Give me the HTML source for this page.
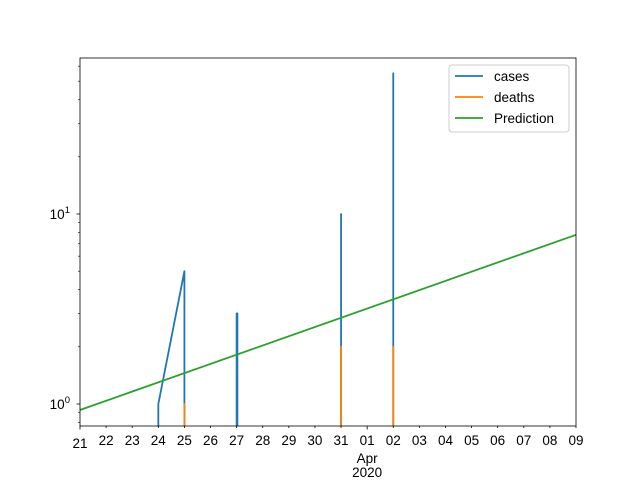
<!DOCTYPE html>
<html><head><meta charset="utf-8"><style>
html,body{margin:0;background:#fff;width:640px;height:480px;overflow:hidden}
svg{display:block;font-family:"Liberation Sans","DejaVu Sans",sans-serif}
</style></head><body>
<svg id="chart" width="640" height="480" xmlns="http://www.w3.org/2000/svg">
<rect width="640" height="480" fill="#fff"/>
<defs><clipPath id="clip"><rect x="80" y="58" width="496" height="368"/></clipPath></defs>
<g id="plot" clip-path="url(#clip)"></g>
<g id="axes"></g>
</svg>
<script>
const dayLabels = ["21","22","23","24","25","26","27","28","29","30","31","01","02","03","04","05","06","07","08","09"];
const casesDays = [3,3,4,4,6,6,6,6.03,6.03,6.03,10,10,10,12,12,12];
const casesVals = [0,1,5,0,0,3,0,0,3,0,0,10,0,0,55,0];
const deathsDays = [4,4,4,6,6,6,10,10,10,12,12,12];
const deathsVals = [0,1,0,0,0,0,0,2,0,0,2,0];
const predDays = [0,19];
const predVals = [0.93,7.77];
const yTicks = [1,10];
const yTickLabels = ["10","10"];

const svg = document.getElementById('chart');
const plot = document.getElementById('plot');
const axes = document.getElementById('axes');
const NS = "http://www.w3.org/2000/svg";
const x = d => 80 + d * (496/19);
const y = v => v <= 0 ? 432 : 404 - Math.log10(v) * 190;
function mk(tag, attrs, parent){const e=document.createElementNS(NS,tag);for(const k in attrs)e.setAttribute(k,attrs[k]);parent.appendChild(e);return e;}

function series(days, vals, color, name){
  const p = days.map((d,i)=>x(d).toFixed(2)+','+y(vals[i]).toFixed(2)).join(' ');
  const el = mk('polyline',{points:p,fill:'none',stroke:color,'stroke-width':1.8,'stroke-linejoin':'round'},plot);
  
  
}
series(casesDays, casesVals, '#1f77b4', 'cases-line');
series(deathsDays, deathsVals, '#ff7f0e', 'deaths-line');
series(predDays, predVals, '#2ca02c', 'prediction-line');

const frame = mk('rect',{x:80,y:58,width:496,height:368,fill:'none',stroke:'#000','stroke-width':0.8},axes);



dayLabels.forEach((l,i)=>{
  const major = (l==="21"||l==="01");
  mk('line',{x1:x(i),x2:x(i),y1:426,y2:major?429.5:428,stroke:'#000','stroke-width':0.8},axes);
  const t = mk('text',{x:x(i),y:l==="21"?448:445,'font-size':'13.5','text-anchor':'middle'},axes);
  t.textContent = l;
  
  
});
const apr = mk('text',{x:x(11),y:463,'font-size':'13.5','text-anchor':'middle'},axes);
apr.textContent = "Apr";


const yr = mk('text',{x:x(11),y:477,'font-size':'13.5','text-anchor':'middle'},axes);
yr.textContent = "2020";



yTicks.forEach((v,i)=>{
  mk('line',{x1:76.5,x2:80,y1:y(v),y2:y(v),stroke:'#000','stroke-width':0.8},axes);
  const t = mk('text',{x:70,y:y(v)+5,'font-size':'13.5','text-anchor':'end'},axes);
  t.textContent = yTickLabels[i];
  
  
  const s = mk('tspan',{dy:-6,'font-size':'9.5'},t); s.textContent = i===0?"0":"1";
});
[0.8,0.9,2,3,4,5,6,7,8,9,20,30,40,50,60].forEach(v=>{
  const yy=y(v); if(yy<58||yy>426) return;
  mk('line',{x1:78,x2:80,y1:yy,y2:yy,stroke:'#000','stroke-width':0.6},axes);
});

const lg = mk('g',{},axes);


mk('rect',{x:449,y:65,width:120,height:67,rx:3,fill:'#fff',stroke:'#ccc','stroke-width':1,'fill-opacity':0.8},lg);
[["cases","#1f77b4"],["deaths","#ff7f0e"],["Prediction","#2ca02c"]].forEach((e,i)=>{
  const yy = 76 + i*21;
  mk('line',{x1:455,x2:483,y1:yy,y2:yy,stroke:e[1],'stroke-width':1.8},lg);
  const t = mk('text',{x:494,y:yy+5,'font-size':'13.5'},lg);
  t.textContent = e[0];
  
  
});
</script>
</body></html>
